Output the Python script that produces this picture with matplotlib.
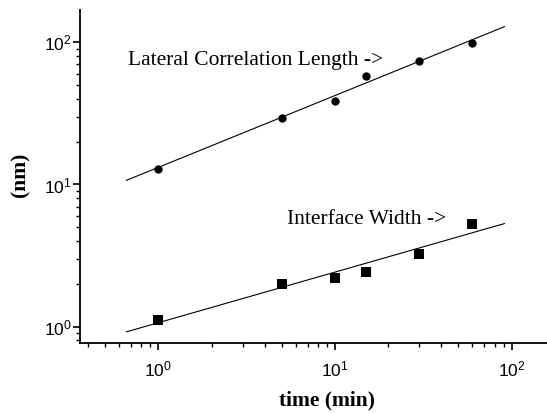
import matplotlib
matplotlib.use("Agg")
import matplotlib.pyplot as plt
from matplotlib.ticker import LogLocator, LogFormatterMathtext, NullFormatter

# ---- data ----
time_min = [1, 5, 10, 15, 30, 60]
lateral_nm = [12.8, 29.2, 38.8, 57.9, 73.5, 99.4]
width_nm = [1.12, 1.99, 2.19, 2.42, 3.23, 5.25]

fit_time = [0.66, 91.0]
lateral_fit = [10.7, 128.8]
width_fit = [0.92, 5.31]

x_label = "time (min)"
y_label = "(nm)"
lateral_text = "Lateral Correlation Length ->"
width_text = "Interface Width ->"

plt.rcParams["font.family"] = ["Liberation Serif", "DejaVu Serif"]

W, H = 547, 413
fig = plt.figure(figsize=(W / 100, H / 100), dpi=100)
left, right, top, bottom = 80, 547, 10, 343.3
ax = fig.add_axes([left / W, 1 - bottom / H, (right - left) / W, (bottom - top) / H])

ax.set_xscale("log")
ax.set_yscale("log")
ax.set_xlim(0.36, 158.5)
ax.set_ylim(0.764, 168.7)

ax.plot(fit_time, lateral_fit, color="black", lw=0.8)
ax.plot(fit_time, width_fit, color="black", lw=0.8)
ax.plot(time_min, lateral_nm, "o", color="black", markersize=6, markeredgewidth=0)
ax.plot(time_min, width_nm, "s", color="black", markersize=6.5, markeredgewidth=0)

ax.text(0.676, 69.2, lateral_text, fontsize=15.5, ha="left", va="baseline")
ax.text(5.33, 5.27, width_text, fontsize=15.5, ha="left", va="baseline")

for s in ["top", "right"]:
    ax.spines[s].set_visible(False)
for s in ["left", "bottom"]:
    ax.spines[s].set_linewidth(1.3)

ax.xaxis.set_major_locator(LogLocator(base=10, numticks=10))
ax.yaxis.set_major_locator(LogLocator(base=10, numticks=10))
ax.xaxis.set_minor_locator(LogLocator(base=10, subs=range(2, 10), numticks=20))
ax.yaxis.set_minor_locator(LogLocator(base=10, subs=range(2, 10), numticks=20))
ax.xaxis.set_major_formatter(LogFormatterMathtext())
ax.yaxis.set_major_formatter(LogFormatterMathtext())
ax.xaxis.set_minor_formatter(NullFormatter())
ax.yaxis.set_minor_formatter(NullFormatter())

ax.tick_params(which="major", direction="out", length=5, width=1.2,
               labelsize=12.5, labelfontfamily="Liberation Sans", colors="black")
ax.tick_params(which="minor", direction="out", length=3, width=1.0)
ax.tick_params(axis="x", which="major", pad=7)
ax.tick_params(axis="y", which="major", pad=1)

fig.text(326.7 / W, 1 - 400 / H, x_label, fontsize=15.5, fontweight="bold",
         ha="center", va="center")
fig.text(20 / W, 1 - 175 / H, y_label, fontsize=15.5, fontweight="bold",
         rotation=90, ha="center", va="center")

fig.savefig("out.png", dpi=100)
